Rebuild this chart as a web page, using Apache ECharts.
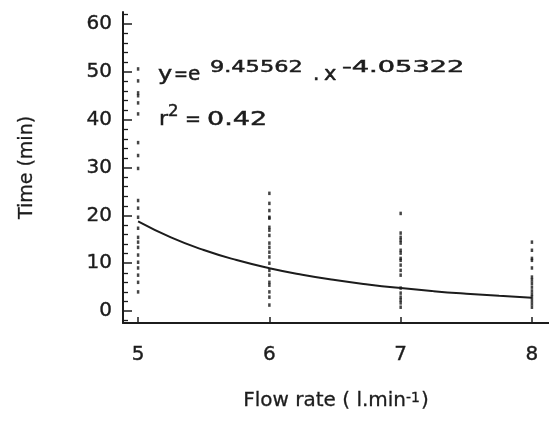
<!DOCTYPE html>
<html>
<head>
<meta charset="utf-8">
<script src="https://cdn.jsdelivr.net/npm/echarts@6/dist/echarts.min.js"></script>
<style>html,body{margin:0;padding:0;background:#fff;}#c{width:549px;height:421px;}</style>
</head>
<body>
<div id="c"></div>
<script>
// Observed times (min) at each flow rate
var flowRates = [5, 6, 7, 8];
var timesAt5 = [50.6, 48.1, 45.6, 45.0, 43.5, 41.2, 35.2, 32.5, 29.8, 23.1, 21.5, 19.6, 17.3, 15.4, 14.4, 13.3, 11.7, 10.2, 9.0, 7.5, 6.0, 4.0];
var timesAt6 = [24.6, 22.5, 21.0, 19.6, 19.4, 17.5, 16.9, 15.8, 14.2, 13.3, 12.3, 11.3, 10.0, 8.5, 7.5, 6.0, 5.4, 4.0, 2.9, 1.25];
var timesAt7 = [20.4, 16.3, 15.4, 14.8, 14.2, 12.7, 12.1, 11.0, 10.6, 9.6, 8.5, 7.5, 4.8, 3.75, 2.9, 2.3, 1.7, 0.8];
var timesAt8 = [14.4, 12.7, 11.0, 10.6, 9.0, 7.1, 6.5, 5.8, 5.0, 4.2, 3.5, 2.9, 2.2, 1.5, 0.8];
// Fitted curve
var fitX = [5, 5.25, 5.5, 5.75, 6, 6.25, 6.5, 6.75, 7, 7.25, 7.5, 7.75, 8];
var fitY = [18.75, 15.40, 12.75, 10.65, 8.96, 7.60, 6.48, 5.56, 4.80, 4.16, 3.63, 3.18, 2.79];
// Tick labels
var xTicks = [5, 6, 7, 8];
var yMajorTicks = [0, 10, 20, 30, 40, 50, 60];
var yMinorTicks = [-2, 2, 4, 6, 8, 12, 14, 16, 18, 22, 24, 26, 28, 32, 34, 36, 38, 42, 44, 46, 48, 52, 54, 56, 58, 62];

var FONT = '"DejaVu Sans", "Liberation Sans", sans-serif';
var INK = '#1c1c1c';

var groups = [timesAt5, timesAt6, timesAt7, timesAt8];
var scatterData = [];
groups.forEach(function (arr, i) {
  arr.forEach(function (v) { scatterData.push([flowRates[i], v]); });
});
var fitData = fitX.map(function (x, i) { return [x, fitY[i]]; });

var chart = echarts.init(document.getElementById('c'), null, {renderer: 'canvas'});
function txt(text, x, baseline, size, scaleX) {
  return {
    type: 'text', x: x, y: baseline - 0.35 * size, scaleX: scaleX || 1, scaleY: 1, originX: 0, originY: 0,
    style: {text: text, x: 0, y: 0, font: size + 'px ' + FONT, fill: INK,
      stroke: INK, lineWidth: 0.5,
      textAlign: 'left', textVerticalAlign: 'middle', align: 'left', verticalAlign: 'middle'}
  };
}
var labelStyle = {fontFamily: FONT, fontSize: 20, color: INK, textBorderColor: INK, textBorderWidth: 0.4};
chart.setOption({
  backgroundColor: '#fff',
  animation: false,
  grid: {left: 123, right: 0, top: 12, bottom: 98},
  xAxis: {
    type: 'value', min: 4.885, max: 8.13,
    name: 'Flow rate ( l.min{sup|-1})',
    nameLocation: 'middle', nameGap: 68,
    nameTextStyle: {
      fontFamily: FONT, fontSize: 20, color: INK, textBorderColor: INK, textBorderWidth: 0.3,
      rich: {sup: {fontFamily: FONT, fontSize: 14, color: INK, verticalAlign: 'top', padding: [0, 1, 0, 0]}}
    },
    axisLine: {show: true, onZero: false, lineStyle: {color: INK, width: 2}},
    axisTick: {show: true, inside: true, length: 6, customValues: xTicks, lineStyle: {color: INK, width: 1.5}},
    axisLabel: Object.assign({customValues: xTicks, margin: 22}, labelStyle),
    splitLine: {show: false}
  },
  yAxis: [{
    type: 'value', min: -2.5, max: 62.5,
    name: 'Time (min)', nameLocation: 'middle', nameGap: 86, nameRotate: 90,
    nameTextStyle: {fontFamily: FONT, fontSize: 19, color: INK, textBorderColor: INK, textBorderWidth: 0.3},
    axisLine: {show: true, onZero: false, lineStyle: {color: INK, width: 2}},
    axisTick: {show: true, inside: true, length: 9, customValues: yMajorTicks, lineStyle: {color: INK, width: 1.5}},
    axisLabel: Object.assign({customValues: yMajorTicks, margin: 11}, labelStyle),
    splitLine: {show: false}
  }, {
    type: 'value', min: -2.5, max: 62.5, position: 'left',
    axisLine: {show: false},
    axisTick: {show: true, inside: true, length: 5, customValues: yMinorTicks, lineStyle: {color: INK, width: 1.3}},
    axisLabel: {show: false},
    splitLine: {show: false}
  }],
  series: [{
    type: 'scatter', data: scatterData, symbol: 'rect', symbolSize: [2.5, 3.5],
    itemStyle: {color: '#161616'}, yAxisIndex: 0
  }, {
    type: 'line', data: fitData, smooth: true, showSymbol: false, symbol: 'none',
    lineStyle: {color: INK, width: 2}, yAxisIndex: 0
  }],
  graphic: [
    txt('y', 158, 82, 20, 1.2),
    txt('=', 174, 82, 20, 0.83),
    txt('e', 188, 82, 20, 1),
    txt('9.45562', 210, 73, 16, 1.4),
    txt('.', 313, 82, 20, 1),
    txt('x', 324, 82, 20, 1.05),
    txt('-4.05322', 342, 73, 16, 1.7),
    txt('r', 159, 127, 20, 1.1),
    txt('2', 168, 117, 15, 1.1),
    txt('=', 185, 127, 20, 0.95),
    txt('0.42', 207, 127, 20, 1.35)
  ]
});
</script>
</body>
</html>
